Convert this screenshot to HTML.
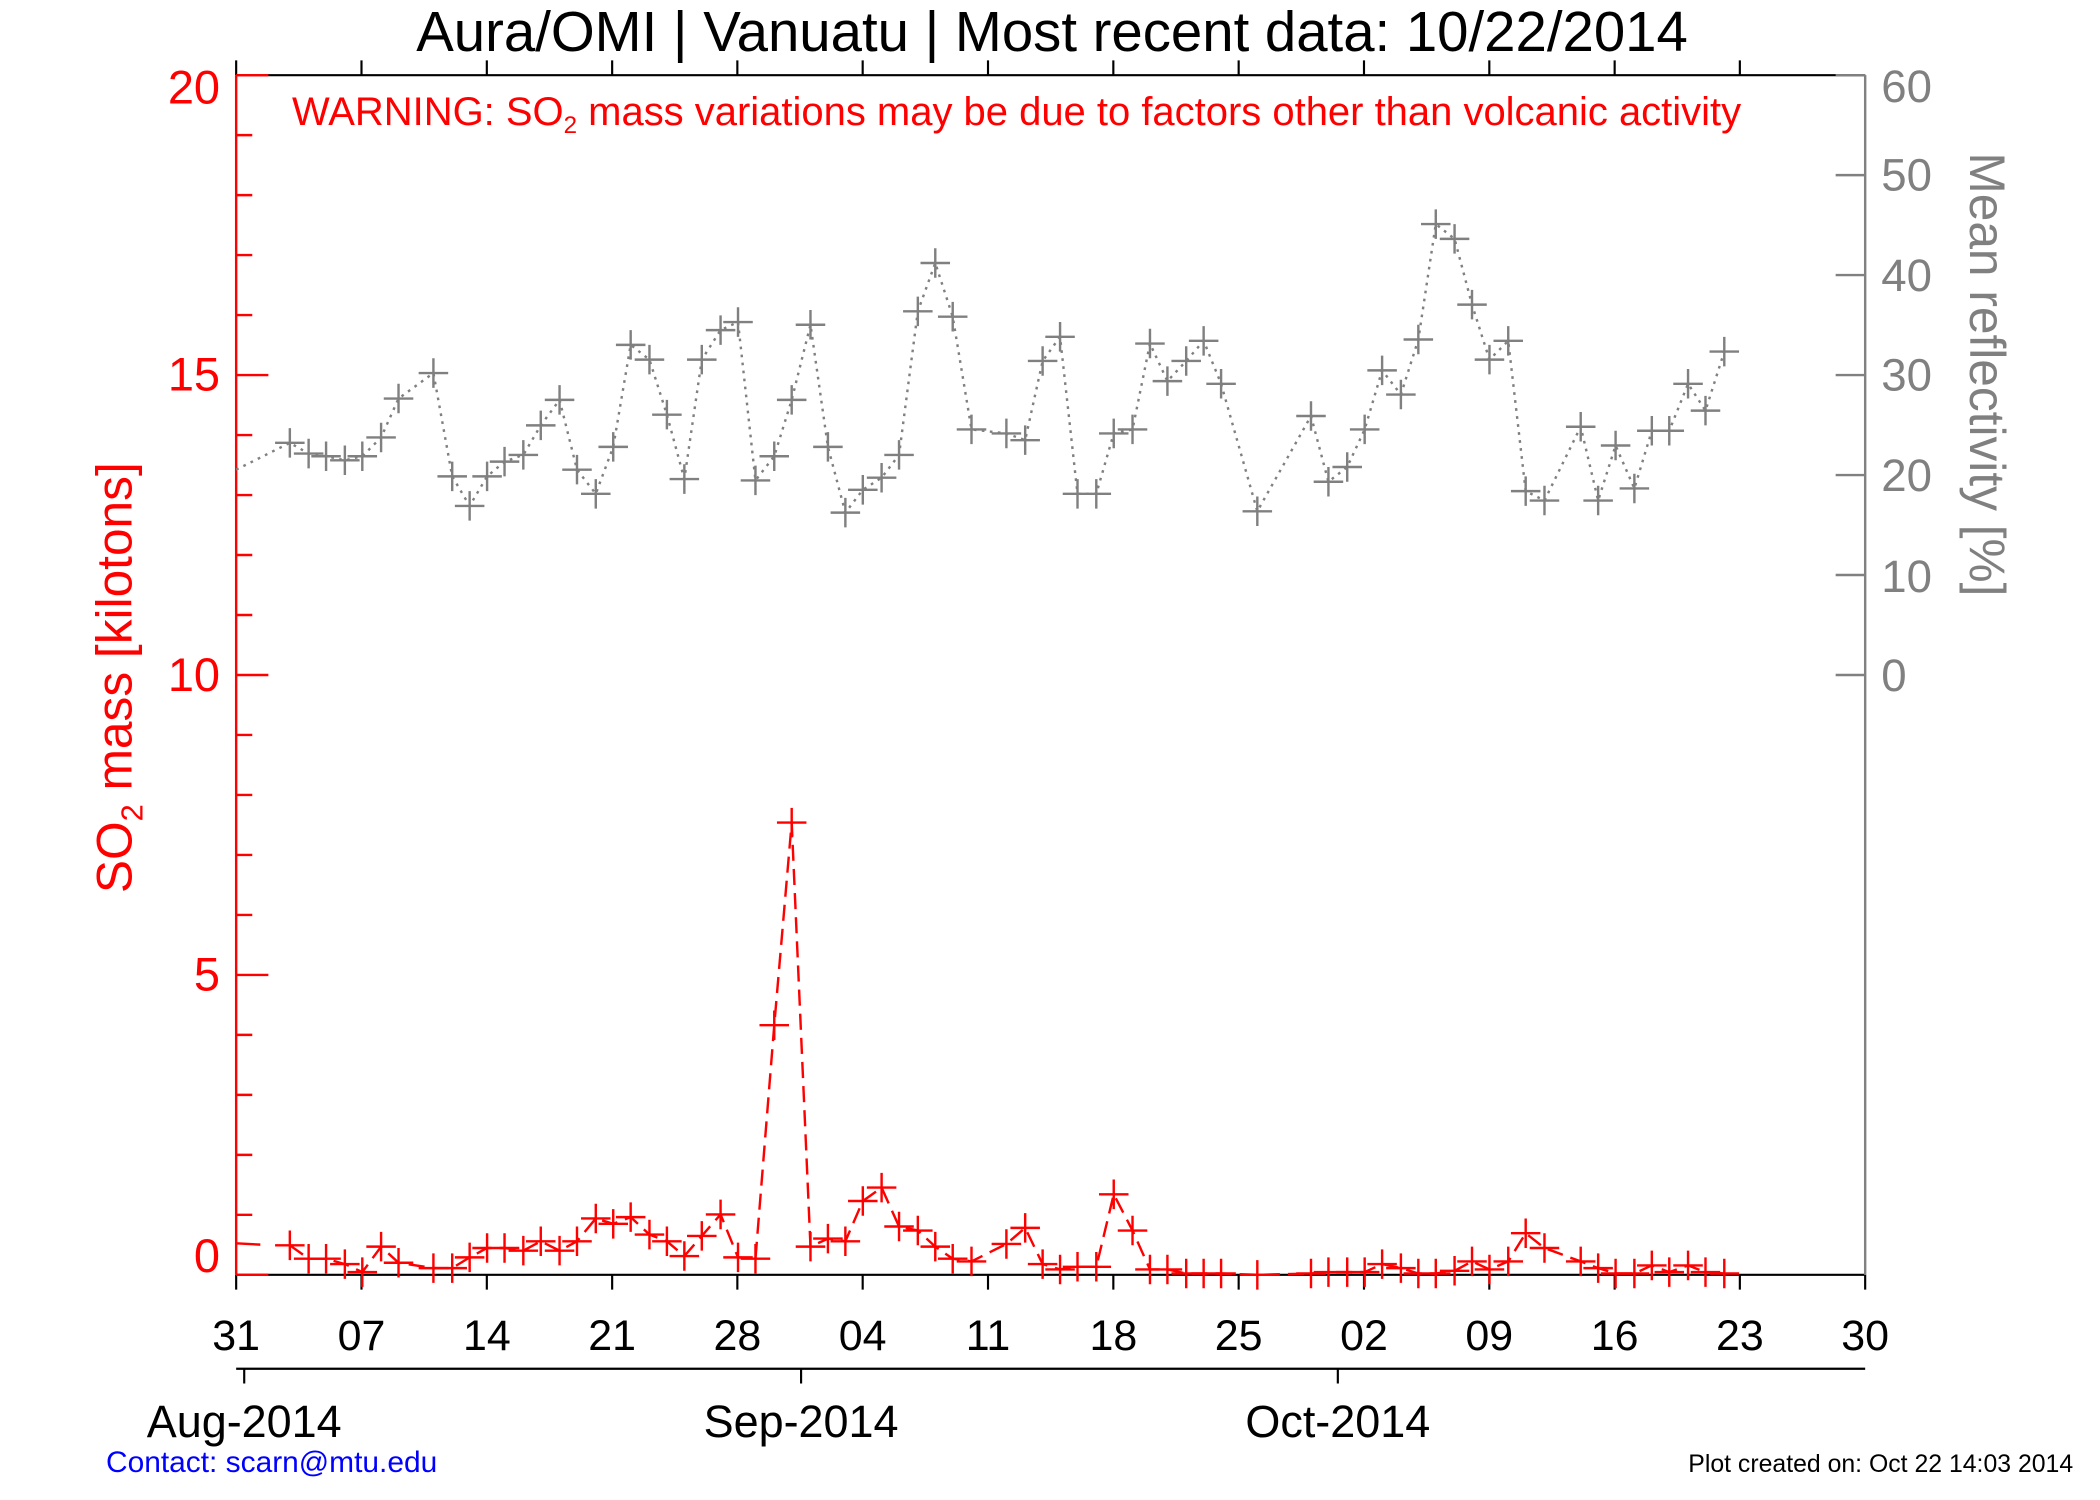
<!DOCTYPE html>
<html><head><meta charset="utf-8"><style>
html,body{margin:0;padding:0;background:#fff;}
svg{display:block;font-family:"Liberation Sans",Arial,sans-serif;}
</style></head><body>
<svg width="2100" height="1500" viewBox="0 0 1565 1117.8" preserveAspectRatio="none" xmlns="http://www.w3.org/2000/svg">
<rect width="1565" height="1118" fill="#fff"/>
<text x="784" y="38" font-size="42" text-anchor="middle" fill="#000">Aura/OMI | Vanuatu | Most recent data: 10/22/2014</text>
<text x="217.6" y="93" font-size="29.8" fill="#f00">WARNING: SO<tspan font-size="18" dy="6">2</tspan><tspan dy="-6"> mass variations may be due to factors other than volcanic activity</tspan></text>

<g stroke="#000" stroke-width="1.6" fill="none">
<line x1="176" y1="56" x2="1390" y2="56"/>
<line x1="176" y1="950" x2="1390" y2="950"/>
<path d="M176 56v-11M269.4 56v-11M362.8 56v-11M456.2 56v-11M549.5 56v-11M642.9 56v-11M736.3 56v-11M829.7 56v-11M923.1 56v-11M1016.5 56v-11M1109.9 56v-11M1203.3 56v-11M1296.6 56v-11
M176 950v11M269.4 950v11M362.8 950v11M456.2 950v11M549.5 950v11M642.9 950v11M736.3 950v11M829.7 950v11M923.1 950v11M1016.5 950v11M1109.9 950v11M1203.3 950v11M1296.6 950v11M1390 950v11"/>
<line x1="176" y1="1020" x2="1390" y2="1020"/>
<path d="M182 1020v11M597 1020v11M997 1020v11"/>
</g>
<g stroke="#f00" stroke-width="1.8" fill="none">
<line x1="176" y1="56" x2="176" y2="950"/>
<path d="M176 56h24M176 279.5h24M176 503h24M176 726.5h24M176 950h24
M176 100.7h12M176 145.4h12M176 190.1h12M176 234.8h12
M176 324.2h12M176 368.9h12M176 413.6h12M176 458.3h12
M176 547.7h12M176 592.4h12M176 637.1h12M176 681.8h12
M176 771.2h12M176 815.9h12M176 860.6h12M176 905.3h12"/>
</g>
<g fill="#f00" font-size="35" text-anchor="end">
<text x="164" y="77">20</text><text x="164" y="291">15</text><text x="164" y="515">10</text><text x="164" y="738">5</text><text x="164" y="948">0</text>
</g>
<g stroke="#808080" stroke-width="1.8" fill="none">
<line x1="1390" y1="56" x2="1390" y2="950"/>
<path d="M1368 56h22M1368 130.5h22M1368 205h22M1368 279.5h22M1368 354h22M1368 428.5h22M1368 503h22"/>
</g>
<g fill="#808080" font-size="34">
<text x="1402" y="76">60</text><text x="1402" y="142">50</text><text x="1402" y="217">40</text><text x="1402" y="291">30</text><text x="1402" y="366">20</text><text x="1402" y="441">10</text><text x="1402" y="515">0</text>
</g>
<g fill="#000" font-size="32" text-anchor="middle">
<text x="176" y="1006">31</text><text x="269.4" y="1006">07</text><text x="362.8" y="1006">14</text><text x="456.2" y="1006">21</text><text x="549.5" y="1006">28</text><text x="642.9" y="1006">04</text><text x="736.3" y="1006">11</text><text x="829.7" y="1006">18</text><text x="923.1" y="1006">25</text><text x="1016.5" y="1006">02</text><text x="1109.9" y="1006">09</text><text x="1203.3" y="1006">16</text><text x="1296.6" y="1006">23</text><text x="1390" y="1006">30</text>
</g>
<g fill="#000" font-size="33.5" text-anchor="middle">
<text x="182" y="1071">Aug-2014</text><text x="597" y="1071">Sep-2014</text><text x="997" y="1071">Oct-2014</text>
</g>
<text transform="translate(98,505) rotate(-90)" font-size="37" fill="#f00" text-anchor="middle">SO<tspan font-size="23" dy="8">2</tspan><tspan dy="-8"> mass [kilotons]</tspan></text>
<text transform="translate(1468,279) rotate(90)" font-size="37" fill="#808080" text-anchor="middle">Mean reflectivity [%]</text>

<polyline fill="none" stroke="#808080" stroke-width="1.8" stroke-dasharray="2,4" points="176,350 216,330 230,338 243,340 257,343 270,340 284,326 297,297 323,278 337,355 350,377 363,355 376,344 390,339 403,317 417,298 430,350 444,368 457,333 470,257 484,268 497,309 510,357 523,268 537,246 550,240 563,358 577,340 590,298 604,242 617,333 630,382 643,365 657,356 670,339 684,232 697,196 710,236 724,320 750,323 764,328 777,269 790,251 803,368 817,368 830,323 844,320 857,256 870,284 884,269 897,254 910,286 937,381 977,310 990,359 1004,348 1017,320 1030,276 1044,294 1057,253 1070,167 1084,178 1097,227 1110,268 1124,254 1137,366 1151,373 1178,318 1191,373 1204,332 1218,364 1231,321 1244,321 1258,286 1271,306 1285,262"/>
<path fill="none" stroke="#808080" stroke-width="1.8" d="M205 330h22M216 319v22M219 338h22M230 327v22M232 340h22M243 329v22M246 343h22M257 332v22M259 340h22M270 329v22M273 326h22M284 315v22M286 297h22M297 286v22M312 278h22M323 267v22M326 355h22M337 344v22M339 377h22M350 366v22M352 355h22M363 344v22M365 344h22M376 333v22M379 339h22M390 328v22M392 317h22M403 306v22M406 298h22M417 287v22M419 350h22M430 339v22M433 368h22M444 357v22M446 333h22M457 322v22M459 257h22M470 246v22M473 268h22M484 257v22M486 309h22M497 298v22M499 357h22M510 346v22M512 268h22M523 257v22M526 246h22M537 235v22M539 240h22M550 229v22M552 358h22M563 347v22M566 340h22M577 329v22M579 298h22M590 287v22M593 242h22M604 231v22M606 333h22M617 322v22M619 382h22M630 371v22M632 365h22M643 354v22M646 356h22M657 345v22M659 339h22M670 328v22M673 232h22M684 221v22M686 196h22M697 185v22M699 236h22M710 225v22M713 320h22M724 309v22M739 323h22M750 312v22M753 328h22M764 317v22M766 269h22M777 258v22M779 251h22M790 240v22M792 368h22M803 357v22M806 368h22M817 357v22M819 323h22M830 312v22M833 320h22M844 309v22M846 256h22M857 245v22M859 284h22M870 273v22M873 269h22M884 258v22M886 254h22M897 243v22M899 286h22M910 275v22M926 381h22M937 370v22M966 310h22M977 299v22M979 359h22M990 348v22M993 348h22M1004 337v22M1006 320h22M1017 309v22M1019 276h22M1030 265v22M1033 294h22M1044 283v22M1046 253h22M1057 242v22M1059 167h22M1070 156v22M1073 178h22M1084 167v22M1086 227h22M1097 216v22M1099 268h22M1110 257v22M1113 254h22M1124 243v22M1126 366h22M1137 355v22M1140 373h22M1151 362v22M1167 318h22M1178 307v22M1180 373h22M1191 362v22M1193 332h22M1204 321v22M1207 364h22M1218 353v22M1220 321h22M1231 310v22M1233 321h22M1244 310v22M1247 286h22M1258 275v22M1260 306h22M1271 295v22M1274 262h22M1285 251v22"/>

<line x1="176" y1="926.5" x2="194" y2="927.5" stroke="#f00" stroke-width="1.8"/>
<polyline fill="none" stroke="#f00" stroke-width="1.8" stroke-dasharray="12,6" points="216,928 230,938 243,938 257,942 270,948 284,929 297,941 323,945 337,945 350,937 363,930 376,930 390,932 403,925 417,932 430,925 444,908 457,912 470,907 484,920 497,925 510,936 523,921 537,905 550,937 563,938 577,764 590,613 604,929 617,923 630,925 643,895 657,885 670,914 684,917 697,929 710,938 724,940 750,927 764,915 777,942 790,946 803,944 817,944 830,890 844,917 857,946 870,946 884,949 897,949 910,949 937,950 977,949 990,948 1004,948 1017,948 1030,942 1044,945 1057,949 1070,949 1084,947 1097,940 1110,946 1124,940 1137,919 1151,930 1178,940 1191,945 1204,949 1218,949 1231,943 1244,948 1258,943 1271,948 1285,949"/>
<path fill="none" stroke="#f00" stroke-width="1.8" d="M205 928h22M216 917v22M219 938h22M230 927v22M232 938h22M243 927v22M246 942h22M257 931v22M259 948h22M270 937v22M273 929h22M284 918v22M286 941h22M297 930v22M312 945h22M323 934v22M326 945h22M337 934v22M339 937h22M350 926v22M352 930h22M363 919v22M365 930h22M376 919v22M379 932h22M390 921v22M392 925h22M403 914v22M406 932h22M417 921v22M419 925h22M430 914v22M433 908h22M444 897v22M446 912h22M457 901v22M459 907h22M470 896v22M473 920h22M484 909v22M486 925h22M497 914v22M499 936h22M510 925v22M512 921h22M523 910v22M526 905h22M537 894v22M539 937h22M550 926v22M552 938h22M563 927v22M566 764h22M577 753v22M579 613h22M590 602v22M593 929h22M604 918v22M606 923h22M617 912v22M619 925h22M630 914v22M632 895h22M643 884v22M646 885h22M657 874v22M659 914h22M670 903v22M673 917h22M684 906v22M686 929h22M697 918v22M699 938h22M710 927v22M713 940h22M724 929v22M739 927h22M750 916v22M753 915h22M764 904v22M766 942h22M777 931v22M779 946h22M790 935v22M792 944h22M803 933v22M806 944h22M817 933v22M819 890h22M830 879v22M833 917h22M844 906v22M846 946h22M857 935v22M859 946h22M870 935v22M873 949h22M884 938v22M886 949h22M897 938v22M899 949h22M910 938v22M926 950h22M937 939v22M966 949h22M977 938v22M979 948h22M990 937v22M993 948h22M1004 937v22M1006 948h22M1017 937v22M1019 942h22M1030 931v22M1033 945h22M1044 934v22M1046 949h22M1057 938v22M1059 949h22M1070 938v22M1073 947h22M1084 936v22M1086 940h22M1097 929v22M1099 946h22M1110 935v22M1113 940h22M1124 929v22M1126 919h22M1137 908v22M1140 930h22M1151 919v22M1167 940h22M1178 929v22M1180 945h22M1191 934v22M1193 949h22M1204 938v22M1207 949h22M1218 938v22M1220 943h22M1231 932v22M1233 948h22M1244 937v22M1247 943h22M1258 932v22M1260 948h22M1271 937v22M1274 949h22M1285 938v22"/>

<text x="79" y="1097" font-size="22.3" fill="#00f">Contact: scarn@mtu.edu</text>
<text x="1545" y="1097" font-size="18.5" fill="#000" text-anchor="end">Plot created on: Oct 22 14:03 2014</text>
</svg>
</body></html>
